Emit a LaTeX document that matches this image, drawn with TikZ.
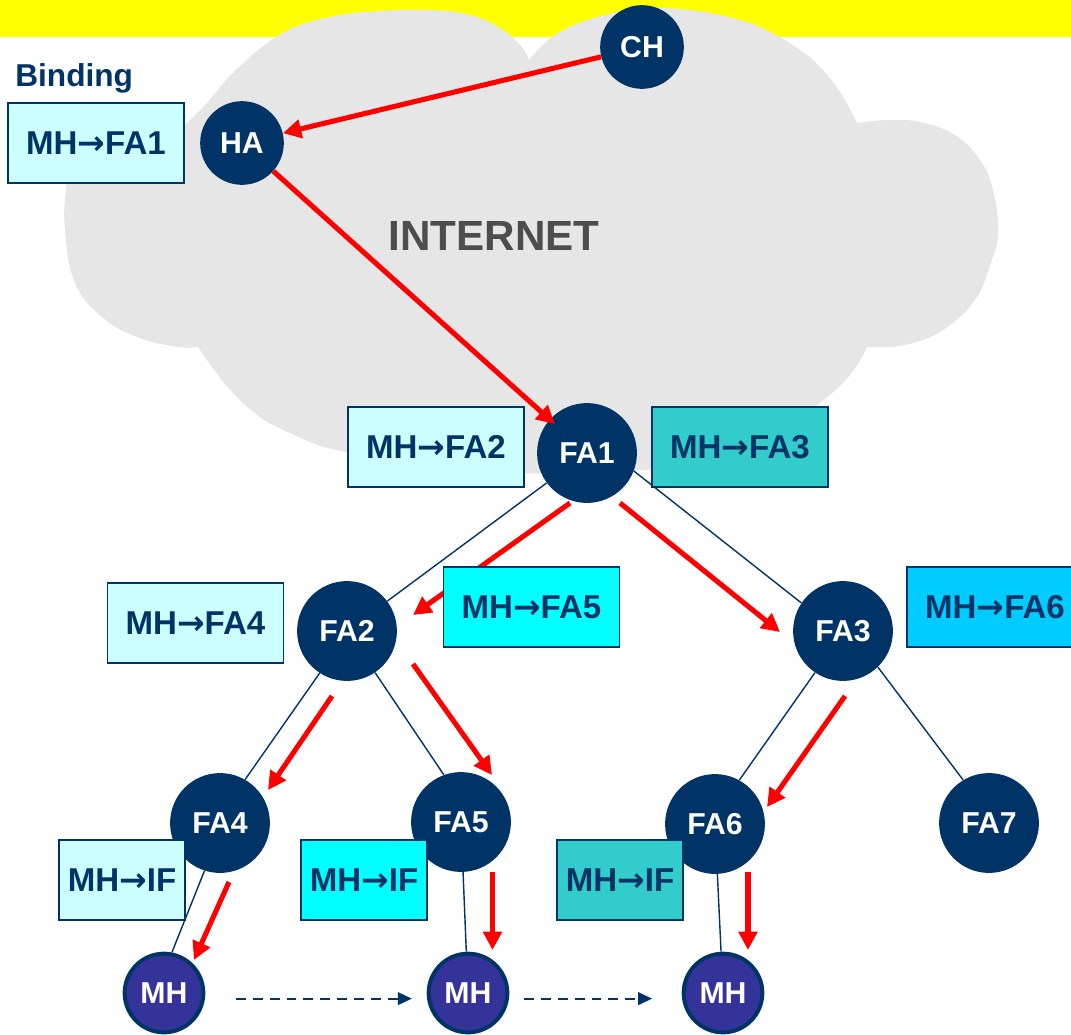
\documentclass[tikz,border=0pt]{standalone}
\usepackage{fontspec}
\setmainfont{Liberation Sans}
\newfontfamily\arrowfont{DejaVu Sans}
\newcommand{\bindarrow}{{\arrowfont\bfseries →}}
\usetikzlibrary{positioning,arrows.meta,calc}
\definecolor{nodeblue}{HTML}{003366}
\definecolor{mhblue}{HTML}{333399}
\definecolor{cloudgray}{HTML}{E6E6E6}
\definecolor{textgray}{HTML}{4D4D4D}
\definecolor{sunny}{HTML}{FFFF00}
\definecolor{cyanA}{HTML}{CCFFFF}
\definecolor{cyanB}{HTML}{33CCCC}
\definecolor{cyanC}{HTML}{00FFFF}
\definecolor{cyanD}{HTML}{00CCFF}
\tikzset{
  fa/.style={circle,fill=nodeblue,text=white,minimum size=71pt,inner sep=0pt,
             font=\fontsize{21.5}{24}\selectfont\bfseries},
  hub/.style={fa,minimum size=59.5pt},
  mh/.style={circle,draw=nodeblue,line width=2.8pt,fill=mhblue,text=white,minimum size=56pt,
             inner sep=0pt,font=\fontsize{21.5}{24}\selectfont\bfseries},
  bind/.style={rectangle,draw=nodeblue,line width=1.2pt,minimum width=125pt,minimum height=57pt,
               inner sep=0pt,text=nodeblue,font=\fontsize{23.5}{26}\selectfont\bfseries},
  bindif/.style={bind,minimum width=90pt},
  wire/.style={draw=nodeblue,line width=1pt},
  fwd/.style={draw=red,line width=3.6pt,-{Triangle[length=13pt,width=13pt]}},
  handoff/.style={draw=nodeblue,line width=1.5pt,dash pattern=on 7pt off 5pt,
                  -{Triangle[length=10pt,width=9pt]}},
}
\begin{document}
\begin{tikzpicture}[x=0.025cm,y=-0.025cm]
  \useasboundingbox (0,0) rectangle (1071,1034);
  % top bar and cloud
  \fill[sunny] (0,0) rectangle (1071,37);
  \fill[cloudgray] (186,124)
    -- plot[smooth,tension=0.7] coordinates {(186,124) (205,105) (239,67) (283,33) (330,17) (380,11)
         (430,10) (470,15) (500,28) (520,45) (529,60)}
    -- plot[smooth,tension=0.7] coordinates {(529,60) (555,35) (594,18) (642,9) (690,10) (740,20)
         (772,33) (800,50) (820,67) (840,92) (857,123)}
    -- plot[smooth,tension=0.7] coordinates {(857,123) (888,120) (920,122) (955,135) (980,160)
         (993,190) (998,233) (990,265) (975,300) (943,330) (905,345) (867,347)}
    -- plot[smooth,tension=0.7] coordinates {(867,347) (850,375) (820,403) (785,427) (740,450)
         (683,465) (620,472) (560,474) (500,472) (440,467) (383,458) (328,448) (290,433)
         (260,417) (233,393) (212,367) (198,347)}
    -- plot[smooth,tension=0.7] coordinates {(198,347) (178,347) (137,337) (102,317) (75,283)
         (65,230) (66,190) (72,163) (90,140) (115,128) (150,122) (186,124)}
    -- cycle;
  \node[font=\fontsize{22.5}{25}\selectfont\bfseries,text=nodeblue,anchor=base west,inner sep=0pt] (lbl) at (15,86) {Binding};
  \node[font=\fontsize{30}{32}\selectfont\bfseries,text=textgray] (net) at (494,236) {INTERNET};

  % agents and hosts
  \node[hub] (CH) at (642,47) {CH};
  \node[hub] (HA) at (242,143) {HA};
  \node[fa] (FA1) at (587,453) {FA1};
  \node[fa] (FA2) at (347,631) {FA2};
  \node[fa] (FA3) at (843,631) {FA3};
  \node[fa] (FA4) at (220,823) {FA4};
  \node[fa] (FA5) at (461,822) {FA5};
  \node[fa] (FA6) at (715,824) {FA6};
  \node[fa] (FA7) at (989,823) {FA7};
  \node[mh] (MH1) at (164,993) {MH};
  \node[mh] (MH2) at (468,993) {MH};
  \node[mh] (MH3) at (723,993) {MH};

  % tree links
  \draw[wire] (FA1) -- (FA2);
  \draw[wire] (FA1.-21) -- (FA3.146);
  \draw[wire] (FA2.-123) -- (FA4.60);
  \draw[wire] (FA2.-56) -- (FA5.110);
  \draw[wire] (FA3.-124) -- (FA6.61);
  \draw[wire] (FA3.-46) -- (FA7.121);
  \draw[wire] (FA4.-108) -- (MH1.79);
  \draw[wire] (FA5) -- (MH2);
  \draw[wire] (FA6) -- (MH3);

  % forwarding path
  \draw[fwd] (CH) -- (HA);
  \draw[fwd,shorten >=-5pt] (HA) -- (FA1);
  \draw[fwd] ([shift={(-17,50)}]FA1.center) -- ([shift={(66,-16)}]FA2.center);
  \draw[fwd] ([shift={(33,50)}]FA1.center) -- ([shift={(-63,1)}]FA3.center);
  \draw[fwd] ([shift={(-15,65)}]FA2.center) -- ([shift={(48,-33)}]FA4.center);
  \draw[fwd] ([shift={(66,33)}]FA2.center) -- ([shift={(31,-47)}]FA5.center);
  \draw[fwd] ([shift={(2,65)}]FA3.center) -- ([shift={(52,-17)}]FA6.center);
  \draw[fwd] ([shift={(9,59)}]FA4.center) -- ([shift={(30,-33)}]MH1.center);
  \draw[fwd] ([shift={(31.5,50)}]FA5.center) -- ([shift={(24.5,-43)}]MH2.center);
  \draw[fwd] ([shift={(33,48)}]FA6.center) -- ([shift={(25,-43)}]MH3.center);

  % host movement
  \draw[handoff,shorten <=21.8pt,shorten >=10.5pt] ([yshift=-4pt]MH1.east) -- ([yshift=-4pt]MH2.west);
  \draw[handoff,shorten <=10.5pt,shorten >=21pt] ([yshift=-4pt]MH2.east) -- ([yshift=-4pt]MH3.west);

  % binding tables
  \node[bind,fill=cyanA] (bFA1) at (96,143) {MH\bindarrow FA1};
  \node[bind,fill=cyanA] (bFA2) at (436,447) {MH\bindarrow FA2};
  \node[bind,fill=cyanB] (bFA3) at (740,447) {MH\bindarrow FA3};
  \node[bind,fill=cyanA] (bFA4) at (195.5,623) {MH\bindarrow FA4};
  \node[bind,fill=cyanC] (bFA5) at (531.5,607) {MH\bindarrow FA5};
  \node[bind,fill=cyanD] (bFA6) at (995,607) {MH\bindarrow FA6};
  \node[bindif,fill=cyanA] (bIF1) at (122,880) {MH\bindarrow IF};
  \node[bindif,fill=cyanC] (bIF2) at (364,880) {MH\bindarrow IF};
  \node[bindif,fill=cyanB] (bIF3) at (620,880) {MH\bindarrow IF};
\end{tikzpicture}
\end{document}
